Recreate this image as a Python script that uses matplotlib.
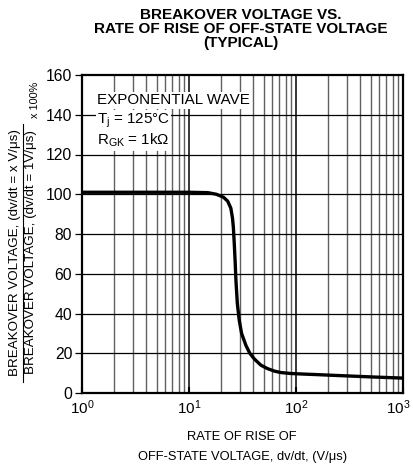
import matplotlib
matplotlib.use("Agg")
import matplotlib.pyplot as plt
from matplotlib.lines import Line2D
from matplotlib.ticker import FixedLocator, NullFormatter
from matplotlib.transforms import ScaledTranslation

plt.rcParams['font.family'] = ['Liberation Sans', 'DejaVu Sans']
plt.rcParams['mathtext.fontset'] = 'custom'
plt.rcParams['mathtext.rm'] = 'Liberation Sans'
plt.rcParams['mathtext.it'] = 'Liberation Sans:italic'
plt.rcParams['mathtext.bf'] = 'Liberation Sans:bold'

# Data
dvdt = [1, 5, 10, 15, 18, 21, 23, 24.6, 25.5, 26, 26.5, 27, 27.5, 28.3, 29.5,
        31, 34, 37, 41, 47, 54, 63, 72, 90, 120, 150, 200, 300, 500, 700, 1000]
vbo_pct = [101, 101, 101, 100.8, 100, 98.5, 96.5, 93, 88, 83, 75, 66, 56, 45, 36.5,
           30, 24, 20, 17, 14, 12.3, 11, 10.3, 9.8, 9.5, 9.3, 9.0, 8.6, 8.1, 7.8, 7.5]

x_ticks = [1, 10, 100, 1000]
x_ticklabels = ['$10^0$', '$10^1$', '$10^2$', '$10^3$']
y_ticks = [0, 20, 40, 60, 80, 100, 120, 140, 160]

title_lines = "BREAKOVER VOLTAGE VS.\nRATE OF RISE OF OFF-STATE VOLTAGE\n(TYPICAL)"
xlabel_lines = ["RATE OF RISE OF", "OFF-STATE VOLTAGE, dv/dt, (V/μs)"]
ylabel_num = "BREAKOVER VOLTAGE, (dv/dt = x V/μs)"
ylabel_den = "BREAKOVER VOLTAGE, (dv/dt = 1V/μs)"
ylabel_mult = "x 100%"
note_lines = ["EXPONENTIAL WAVE", "$\\mathregular{T_j}$ = 125°C", "$\\mathregular{R_{GK}}$ = 1kΩ"]

W, H = 414, 466
fig = plt.figure(figsize=(W / 100, H / 100), dpi=100)
L, R, T, B = 82, 403, 75, 393
ax = fig.add_axes([L / W, 1 - B / H, (R - L) / W, (B - T) / H])

ax.set_xscale('log')
ax.set_xlim(1, 1000)
ax.set_ylim(0, 160)

# grid
for d in [1, 10, 100]:
    for m in range(2, 10):
        ax.axvline(d * m, color='#606060', lw=1.0, zorder=1)
for d in [10, 100]:
    ax.axvline(d, color='black', lw=1.1, zorder=1)
for yv in y_ticks[1:-1]:
    ax.axhline(yv, color='black', lw=0.9, zorder=1)

ax.plot(dvdt, vbo_pct, color='black', lw=2.4, zorder=5, solid_capstyle='round')

ax.xaxis.set_major_locator(FixedLocator(x_ticks))
ax.set_xticklabels(x_ticklabels)
ax.xaxis.set_minor_formatter(NullFormatter())
ax.tick_params(axis='x', which='minor', length=0)
ax.tick_params(axis='x', which='major', direction='in', length=4, width=1.5,
               labelsize=11, pad=4)
ax.set_yticks(y_ticks)
ax.tick_params(axis='y', which='major', direction='out', length=5, width=0.9,
               labelsize=11.3, pad=2)
for s in ax.spines.values():
    s.set_linewidth(1.6)
    s.set_zorder(6)

# keep the last tick label inside the figure
last = ax.get_xticklabels()[-1]
last.set_transform(last.get_transform() + ScaledTranslation(-0.045, 0, fig.dpi_scale_trans))

# notes
for i, t in enumerate(note_lines):
    ax.text(1.38, 147.2 - i * 10.1, t, fontsize=10.9, va='center', ha='left', zorder=4,
            bbox=dict(facecolor='white', edgecolor='none', pad=1.0))

# title
fig.text(241 / W, 1 - 8 / H, title_lines, ha='center', va='top',
         fontsize=11, fontweight='bold', linespacing=0.98)

# x label
fig.text(242 / W, 1 - 437 / H, xlabel_lines[0], ha='center', va='center', fontsize=9.3)
fig.text(243 / W, 1 - 457 / H, xlabel_lines[1], ha='center', va='center', fontsize=9.3)

# y label as a fraction
cy = 1 - 252 / H
fig.text(15 / W, cy, ylabel_num, rotation=90, ha='center', va='center', fontsize=9.6)
fig.text(31.5 / W, cy, ylabel_den, rotation=90, ha='center', va='center', fontsize=9.6)
fig.add_artist(Line2D([23.5 / W, 23.5 / W], [1 - 382 / H, 1 - 124 / H],
                      transform=fig.transFigure, color='black', lw=0.8))
fig.text(35 / W, 1 - 100 / H, ylabel_mult, rotation=90, ha='center', va='center', fontsize=7.8)

fig.savefig('out.png', dpi=100)
